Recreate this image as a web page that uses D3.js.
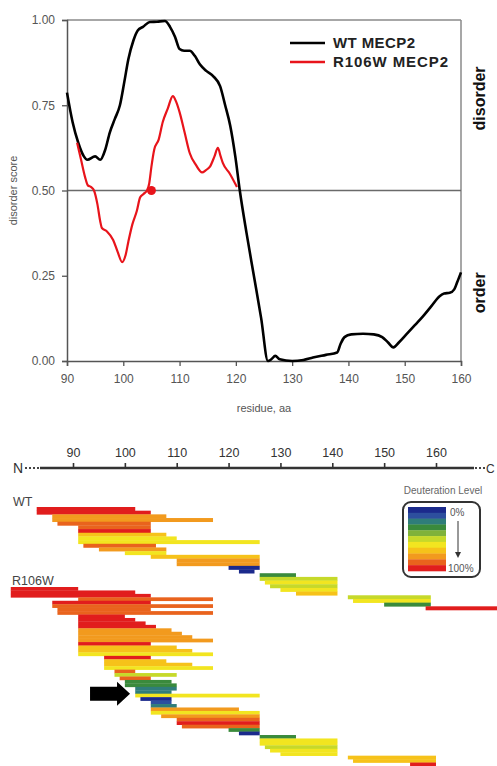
<!DOCTYPE html>
<html>
<head>
<meta charset="utf-8">
<script src="https://cdn.jsdelivr.net/npm/d3@7"></script>
<style>
  body { margin: 0; background: #fff; }
  svg { display: block; font-family: "Liberation Sans", Arial, sans-serif; }
</style>
</head>
<body>
<div id="chart"></div>
<script>
// disorder profile (top panel)
var wtResidue = [90, 91, 92, 93, 93.6, 95, 95.9, 96.8, 97.6, 98.5, 99.4, 100.2, 100.9, 101.8, 102.6, 103.5, 104.7, 106, 107.4, 108.3, 109.2, 110, 110.8, 111.8, 112.7, 113.6, 114.8, 116, 117.2, 118.1, 119, 119.9, 120.7, 121.9, 123.2, 124.5, 125.7, 126.3, 127, 127.8, 130, 132, 133.7, 136, 138, 138.6, 139.3, 140.5, 142.6, 144.5, 146, 147, 148, 149, 150.4, 151.8, 153.2, 154.7, 156.2, 157, 158, 158.8, 159.3, 160]
var wtScore = [0.787, 0.70, 0.64, 0.60, 0.59, 0.60, 0.59, 0.62, 0.67, 0.71, 0.75, 0.82, 0.885, 0.94, 0.97, 0.98, 0.994, 0.995, 0.997, 0.98, 0.95, 0.915, 0.91, 0.91, 0.895, 0.87, 0.85, 0.835, 0.806, 0.75, 0.69, 0.60, 0.50, 0.375, 0.25, 0.125, 0.0, 0.005, 0.015, 0.005, 0, 0.003, 0.01, 0.018, 0.025, 0.05, 0.07, 0.078, 0.08, 0.078, 0.07, 0.055, 0.04, 0.055, 0.08, 0.105, 0.13, 0.16, 0.19, 0.198, 0.20, 0.21, 0.23, 0.26]

var mutResidue = [91.8, 92.5, 93.2, 93.7, 94.3, 94.8, 95.4, 95.9, 96.2, 97.1, 98.2, 99, 99.8, 100.4, 100.9, 101.6, 102.4, 103, 103.6, 104.2, 104.6, 105, 105.5, 106.3, 107, 107.9, 108.8, 109.4, 110, 110.9, 111.8, 112.9, 114, 114.7, 115.4, 116.2, 116.8, 117.3, 117.7, 118.9, 120.2]
var mutScore = [0.64, 0.59, 0.54, 0.515, 0.51, 0.50, 0.46, 0.41, 0.39, 0.38, 0.355, 0.32, 0.29, 0.31, 0.35, 0.40, 0.44, 0.48, 0.49, 0.50, 0.52, 0.57, 0.62, 0.65, 0.70, 0.74, 0.777, 0.76, 0.73, 0.67, 0.61, 0.575, 0.553, 0.56, 0.57, 0.60, 0.625, 0.60, 0.58, 0.55, 0.51]

var mutationSite = [105, 0.5]
var seriesNames = ['WT MECP2', 'R106W MECP2']
var seriesColors = ['#000000', '#e8141b']

// HDX peptides (bottom panel): [start residue, end residue, deuteration %]
var wtPeptides = [
  [83, 102, 95], [83, 105, 95], [86, 108, 75], [86, 117, 78], [87, 105, 84],
  [91, 105, 88], [91, 105, 92], [91, 108, 72], [91, 110, 62], [91, 126, 60],
  [92, 106, 85], [95, 108, 78], [100, 108, 62], [105, 126, 70], [110, 126, 75],
  [110, 126, 78], [120, 126, 3], [122, 125, 8], [126, 133, 30], [126, 141, 50],
  [127, 141, 60], [128, 141, 48], [130, 141, 62], [133, 141, 65], [143, 159, 50],
  [144, 159, 60], [150, 159, 32], [158, 172, 95]
]
var mutPeptides = [
  [78, 91, 95], [78, 102, 95], [78, 105, 95], [91, 117, 85], [86, 105, 92],
  [86, 117, 88], [87, 105, 90], [87, 117, 82], [91, 100, 95], [91, 102, 95],
  [91, 104, 95], [91, 106, 92], [91, 109, 75], [91, 111, 75], [91, 113, 73],
  [91, 117, 80], [91, 105, 92], [91, 110, 72], [91, 113, 70], [91, 117, 62],
  [96, 105, 95], [96, 108, 68], [96, 113, 65], [96, 117, 62], [98, 102, 88],
  [98, 110, 50], [99, 105, 88], [100, 109, 35], [100, 110, 32], [102, 110, 22],
  [102, 109, 20], [102, 126, 60], [103, 109, 3], [105, 109, 10], [105, 110, 22],
  [105, 122, 80], [105, 126, 62], [107, 126, 80], [110, 126, 85], [110, 126, 95],
  [111, 126, 85], [120, 126, 32], [122, 126, 5], [126, 133, 32], [126, 141, 60],
  [126, 141, 62], [127, 141, 48], [128, 141, 60], [130, 141, 62], [143, 160, 70],
  [144, 160, 72], [155, 160, 95]
]
var seqTicks = [90, 100, 110, 120, 130, 140, 150, 160]
var levelColors = ['#1b2a8c', '#2d4f9e', '#2f7d7a', '#3a8a3c', '#7fb23a', '#c6d92a',
                   '#f2e520', '#f6c21a', '#f29a1e', '#e9631d', '#e11d1d']
var arrowTarget = [101, 31]   // residue, peptide row in R106W

var W = 497, H = 766

var svg = d3.select('#chart').append('svg')
  .attr('width', W).attr('height', H)

// ---------- top panel ----------
var x = d3.scaleLinear().domain([90, 160]).range([67, 461])
var y = d3.scaleLinear().domain([0, 1]).range([361, 20])

var upper = svg.append('g')

// frame
upper.append('line').attr('x1', x(90)).attr('x2', x(160)).attr('y1', y(1)).attr('y2', y(1))
  .attr('stroke', '#8a8a8a').attr('stroke-width', 1.5)
upper.append('line').attr('x1', x(160)).attr('x2', x(160)).attr('y1', y(1)).attr('y2', y(0))
  .attr('stroke', '#8a8a8a').attr('stroke-width', 1.5)
upper.append('line').attr('x1', x(90)).attr('x2', x(160)).attr('y1', y(0.5)).attr('y2', y(0.5))
  .attr('stroke', '#6a6a6a').attr('stroke-width', 1.3)

var yAxis = upper.append('g')
  .attr('transform', `translate(${x(90)},0)`)
  .call(d3.axisLeft(y).tickValues([0, 0.25, 0.5, 0.75, 1]).tickFormat(d3.format('.2f')).tickSize(5).tickPadding(7))
var xAxis = upper.append('g')
  .attr('transform', `translate(0,${y(0)})`)
  .call(d3.axisBottom(x).tickValues(d3.range(90, 161, 10)).tickSize(5).tickPadding(8))

;[yAxis, xAxis].forEach(function (a) {
  a.select('.domain').attr('stroke', '#555').attr('stroke-width', 1.5)
  a.selectAll('.tick line').attr('stroke', '#555').attr('stroke-width', 1.3)
  a.selectAll('.tick text').attr('fill', '#555').style('font-size', '12px')
    .style('font-family', '"Liberation Sans", Arial, sans-serif')
})

upper.append('text')
  .attr('transform', `translate(17,${y(0.5)}) rotate(-90)`)
  .attr('text-anchor', 'middle').attr('fill', '#555').style('font-size', '11px')
  .text('disorder score')
upper.append('text')
  .attr('x', (x(90) + x(160)) / 2).attr('y', 412)
  .attr('text-anchor', 'middle').attr('fill', '#555').style('font-size', '11px')
  .text('residue, aa')

upper.append('text')
  .attr('transform', `translate(485,${y(0.77)}) rotate(-90)`)
  .attr('text-anchor', 'middle').attr('fill', '#111')
  .style('font-size', '16px').style('font-weight', 'bold')
  .text('disorder')
upper.append('text')
  .attr('transform', `translate(485,${y(0.2)}) rotate(-90)`)
  .attr('text-anchor', 'middle').attr('fill', '#111')
  .style('font-size', '16px').style('font-weight', 'bold')
  .text('order')

var line = d3.line()
  .x(function (d) { return x(d[0]) })
  .y(function (d) { return y(d[1]) })
  .curve(d3.curveMonotoneX)

upper.append('path')
  .datum(d3.zip(wtResidue, wtScore))
  .attr('d', line).attr('fill', 'none')
  .attr('stroke', seriesColors[0]).attr('stroke-width', 2.6).attr('stroke-linejoin', 'round')
upper.append('path')
  .datum(d3.zip(mutResidue, mutScore))
  .attr('d', line).attr('fill', 'none')
  .attr('stroke', seriesColors[1]).attr('stroke-width', 2.2).attr('stroke-linejoin', 'round')
upper.append('circle')
  .attr('cx', x(mutationSite[0])).attr('cy', y(mutationSite[1])).attr('r', 4.5)
  .attr('fill', '#e8141b')

// legend
var leg = upper.append('g').selectAll('g').data(seriesNames).enter().append('g')
  .attr('transform', function (d, i) { return `translate(290,${43 + i * 19})` })
leg.append('line').attr('x1', 0).attr('x2', 35)
  .attr('stroke', function (d, i) { return seriesColors[i] }).attr('stroke-width', 2.5)
leg.append('text').attr('x', 43).attr('dy', '0.36em')
  .attr('fill', '#222').style('font-size', '15px').style('font-weight', 'bold')
  .attr('textLength', function (d, i) { return i ? 115 : 82 })
  .text(function (d) { return d })

// ---------- bottom panel ----------
var xb = d3.scaleLinear().domain([90, 160]).range([73, 436])
var axisY = 468
var bot = svg.append('g')

var seqAxis = bot.append('g')
  .attr('transform', `translate(0,${axisY})`)
  .call(d3.axisTop(xb).tickValues(seqTicks).tickSize(5).tickPadding(6))
seqAxis.select('.domain').remove()
seqAxis.selectAll('.tick line').attr('stroke', '#333').attr('stroke-width', 1.6)
seqAxis.selectAll('.tick text').attr('fill', '#333').style('font-size', '12.5px')
  .style('font-family', '"Liberation Sans", Arial, sans-serif')
bot.append('line').attr('x1', 40).attr('x2', 474).attr('y1', axisY).attr('y2', axisY)
  .attr('stroke', '#333').attr('stroke-width', 2.4)
bot.append('line').attr('x1', 25).attr('x2', 40).attr('y1', axisY).attr('y2', axisY)
  .attr('stroke', '#444').attr('stroke-width', 2).attr('stroke-dasharray', '2,2')
bot.append('line').attr('x1', 475).attr('x2', 485).attr('y1', axisY).attr('y2', axisY)
  .attr('stroke', '#444').attr('stroke-width', 2).attr('stroke-dasharray', '2,2')
bot.append('text').attr('x', 13).attr('y', axisY + 5).attr('fill', '#333')
  .style('font-size', '14px').text('N')
bot.append('text').attr('x', 486).attr('y', axisY + 4.5).attr('fill', '#333')
  .style('font-size', '12px').text('C')

bot.append('text').attr('x', 13).attr('y', 506).attr('fill', '#444')
  .style('font-size', '12.5px').text('WT')
bot.append('text').attr('x', 12).attr('y', 585).attr('fill', '#444')
  .style('font-size', '12.5px').text('R106W')

var levelColor = d3.scaleQuantize().domain([0, 100]).range(levelColors)

function drawPeptides(peps, y0, y1) {
  var rows = d3.scaleBand().domain(d3.range(peps.length)).range([y0, y1])
  bot.append('g').selectAll('rect').data(peps).enter().append('rect')
    .attr('x', function (d) { return xb(d[0]) })
    .attr('width', function (d) { return xb(d[1]) - xb(d[0]) })
    .attr('y', function (d, i) { return rows(i) })
    .attr('height', rows.bandwidth() + 0.3)
    .attr('fill', function (d) { return levelColor(d[2]) })
  return rows
}
drawPeptides(wtPeptides, 507, 610)
var mutRows = drawPeptides(mutPeptides, 587, 766)

// arrow pointing at the mutated stretch
var ax = xb(arrowTarget[0]), ay = mutRows(arrowTarget[1])
bot.append('path')
  .attr('d', `M${ax},${ay} L${ax - 13},${ay - 12} L${ax - 13},${ay - 7} L${ax - 40},${ay - 7} L${ax - 40},${ay + 7} L${ax - 13},${ay + 7} L${ax - 13},${ay + 12} Z`)
  .attr('fill', '#000')

// deuteration legend
var dl = bot.append('g')
dl.append('text').attr('x', 443).attr('y', 494).attr('text-anchor', 'middle')
  .attr('fill', '#666').style('font-size', '10px').text('Deuteration Level')
dl.append('rect').attr('x', 403).attr('y', 502).attr('width', 77).attr('height', 75).attr('rx', 8)
  .attr('fill', '#fff').attr('stroke', '#333').attr('stroke-width', 2)
var stripe = d3.scaleBand().domain(d3.range(levelColors.length)).range([507, 571])
dl.selectAll('rect.s').data(levelColors).enter().append('rect').attr('class', 's')
  .attr('x', 408).attr('width', 38)
  .attr('y', function (d, i) { return stripe(i) }).attr('height', stripe.bandwidth() + 0.3)
  .attr('fill', function (d) { return d })
dl.append('text').attr('x', 450).attr('y', 516).attr('fill', '#555')
  .style('font-size', '10px').text('0%')
dl.append('text').attr('x', 448).attr('y', 572).attr('fill', '#555')
  .style('font-size', '10px').text('100%')
dl.append('line').attr('x1', 458).attr('x2', 458).attr('y1', 521).attr('y2', 553)
  .attr('stroke', '#333').attr('stroke-width', 1)
dl.append('path').attr('d', 'M455,552 L461,552 L458,558 Z').attr('fill', '#333')
</script>
</body>
</html>
